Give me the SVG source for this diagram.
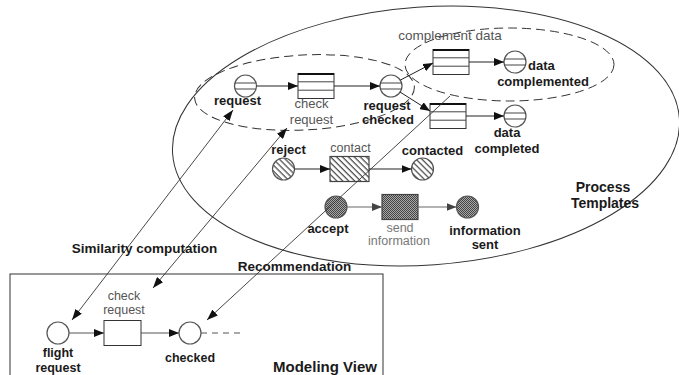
<svg xmlns="http://www.w3.org/2000/svg" xmlns:xlink="http://www.w3.org/1999/xlink" width="679" height="375" viewBox="0 0 679 375">
<style>
text { font-family: "Liberation Sans", Arial, sans-serif; text-anchor: middle; }
.b { font-weight: bold; fill: #1a1a1a; font-size: 13px; }
.bs { font-weight: bold; fill: #1a1a1a; font-size: 12.5px; }
.g { fill: #555; font-size: 13px; }
.gs { fill: #555; font-size: 12.5px; }
.big { font-weight: bold; fill: #1a1a1a; font-size: 14px; }
.lbl { font-weight: bold; fill: #1a1a1a; font-size: 13.5px; }
.frame { fill: none; stroke: #333; stroke-width: 1; }
.dash { fill: none; stroke: #333; stroke-width: 1; stroke-dasharray: 9 5; }
.arc { fill: none; stroke: #222; stroke-width: 1; marker-end: url(#ah); }
.arcg { fill: none; stroke: #666; stroke-width: 1; marker-end: url(#ahg); }
.link { fill: none; stroke: #333; stroke-width: 0.9; }
.pl { fill: #fff; stroke: #555; stroke-width: 1.2; }
.tr { fill: #fff; stroke: #333; stroke-width: 1; }
.row { stroke: #444; stroke-width: 1; }
</style>
<defs>
  <marker id="ah" viewBox="0 0 10 8" refX="10" refY="4" markerWidth="10" markerHeight="8" orient="auto" markerUnits="userSpaceOnUse">
    <path d="M0,0 L10,4 L0,8 z" fill="#111"/>
  </marker>
  <marker id="ahg" viewBox="0 0 10 8" refX="10" refY="4" markerWidth="10" markerHeight="8" orient="auto" markerUnits="userSpaceOnUse">
    <path d="M0,0 L10,4 L0,8 z" fill="#444"/>
  </marker>
  <marker id="lh" viewBox="0 0 11 8" refX="11" refY="4" markerWidth="11" markerHeight="8" orient="auto-start-reverse" markerUnits="userSpaceOnUse">
    <path d="M0,0 L11,4 L0,8 z" fill="#111"/>
  </marker>
  <pattern id="hatch" patternUnits="userSpaceOnUse" width="4.2" height="4.2" patternTransform="rotate(-45)">
    <rect width="4.2" height="4.2" fill="#fff"/>
    <line x1="1" y1="0" x2="1" y2="4.2" stroke="#333" stroke-width="1.1"/>
  </pattern>
  <pattern id="check" patternUnits="userSpaceOnUse" width="2" height="2">
    <rect width="2" height="2" fill="#a8a8a8"/>
    <rect width="1" height="1" fill="#444"/>
    <rect x="1" y="1" width="1" height="1" fill="#444"/>
  </pattern>
  <g id="bandc">
    <circle r="11" class="pl"/>
    <line x1="-10.6" y1="-3" x2="10.6" y2="-3" class="row"/>
    <line x1="-10.6" y1="3" x2="10.6" y2="3" class="row"/>
  </g>
  <g id="tbox">
    <rect x="-18" y="-12.5" width="36" height="25" class="tr"/>
    <line x1="-18" y1="-4.2" x2="18" y2="-4.2" class="row"/>
    <line x1="-18" y1="4.2" x2="18" y2="4.2" class="row"/>
    <line x1="-18" y1="-12" x2="18" y2="-12" stroke="#111" stroke-width="2"/>
  </g>
</defs>

<g id="process-templates">
  <ellipse cx="426" cy="136" rx="254" ry="129" transform="rotate(-4 426 136)" class="frame"/>
  <text class="big" x="603" y="192">Process</text>
  <text class="big" x="605" y="208">Templates</text>
</g>

<g id="group-request">
  <ellipse cx="304.5" cy="92.5" rx="110" ry="37.5" transform="rotate(-3 304.5 92.5)" class="dash"/>
</g>

<g id="group-complement">
  <ellipse cx="509.5" cy="64.5" rx="104.5" ry="36.5" class="dash"/>
  <text class="g" x="450" y="40" style="font-size:13.5px">complement data</text>
</g>

<g id="modeling-view">
  <rect x="10" y="274" width="373" height="110" class="frame"/>
  <text x="325" y="372" style="font-weight:bold;font-size:15px;fill:#1a1a1a">Modeling View</text>
</g>

<g id="p-request">
  <use xlink:href="#bandc" x="245.5" y="86"/>
  <text class="b" x="237.5" y="105">request</text>
</g>
<g id="t-check-request">
  <use xlink:href="#tbox" x="316" y="86"/>
  <text class="g" x="311.5" y="108">check</text>
  <text class="g" x="311.5" y="124">request</text>
</g>
<g id="p-request-checked">
  <use xlink:href="#bandc" x="391" y="86"/>
  <text class="b" x="387" y="110">request</text>
  <text class="b" x="388" y="124">checked</text>
</g>
<g id="t-complement-data">
  <use xlink:href="#tbox" x="451" y="62"/>
</g>
<g id="p-data-complemented">
  <use xlink:href="#bandc" x="515" y="62"/>
  <text class="b" x="528" y="70" style="text-anchor:start">data</text>
  <text class="b" x="543" y="86">complemented</text>
</g>
<g id="t-complete-data">
  <use xlink:href="#tbox" x="448" y="116"/>
</g>
<g id="p-data-completed">
  <use xlink:href="#bandc" x="515" y="116"/>
  <text class="b" x="507" y="137">data</text>
  <text class="b" x="507" y="153">completed</text>
</g>

<g id="p-reject">
  <circle cx="283.5" cy="169" r="11" fill="url(#hatch)" stroke="#555" stroke-width="1.2"/>
  <text class="b" x="288.5" y="154">reject</text>
</g>
<g id="t-contact">
  <rect x="330" y="156.5" width="39" height="25" fill="url(#hatch)" stroke="#444" stroke-width="1.2"/>
  <text class="gs" x="350.5" y="152">contact</text>
</g>
<g id="p-contacted">
  <circle cx="422.5" cy="169" r="11" fill="url(#hatch)" stroke="#555" stroke-width="1.2"/>
  <text class="b" x="432.5" y="155">contacted</text>
</g>

<g id="p-accept">
  <circle cx="336" cy="207" r="11" fill="url(#check)" stroke="#555" stroke-width="1.2"/>
  <text class="b" x="328" y="233">accept</text>
</g>
<g id="t-send-information">
  <rect x="382" y="194.5" width="36" height="25" fill="url(#check)" stroke="#444" stroke-width="1.2"/>
  <text class="gs" x="400" y="232" style="fill:#777">send</text>
  <text class="gs" x="399" y="245" style="fill:#777">information</text>
</g>
<g id="p-information-sent">
  <circle cx="467.5" cy="207" r="11" fill="url(#check)" stroke="#555" stroke-width="1.2"/>
  <text class="b" x="485" y="235">information</text>
  <text class="b" x="485" y="249">sent</text>
</g>

<g id="m-flight-request">
  <circle cx="58" cy="333" r="11" class="pl"/>
  <text class="bs" x="58" y="357">flight</text>
  <text class="bs" x="58" y="372">request</text>
</g>
<g id="m-check-request">
  <rect x="104" y="320.5" width="37" height="25" class="tr"/>
  <text class="gs" x="124" y="300">check</text>
  <text class="gs" x="124" y="314">request</text>
</g>
<g id="m-checked">
  <circle cx="190" cy="333" r="11" class="pl"/>
  <text class="bs" x="190" y="362">checked</text>
</g>

<g id="connectors">
  <line x1="256.5" y1="86" x2="298" y2="86" class="arc"/>
  <line x1="334" y1="86" x2="380" y2="86" class="arc"/>
  <line x1="400.5" y1="80" x2="433" y2="63" class="arc"/>
  <line x1="400" y1="92" x2="430" y2="111" class="arc"/>
  <line x1="469" y1="62" x2="504" y2="62" class="arc"/>
  <line x1="466" y1="116" x2="504" y2="116" class="arc"/>
  <line x1="294.5" y1="169" x2="330" y2="169" class="arc"/>
  <line x1="369" y1="169" x2="411.5" y2="169" class="arc"/>
  <line x1="347" y1="207" x2="382" y2="207" class="arcg"/>
  <line x1="418" y1="207" x2="456.5" y2="207" class="arcg"/>
  <line x1="69" y1="333" x2="104" y2="333" class="arc" style="stroke:#555"/>
  <line x1="141" y1="333" x2="179" y2="333" class="arc" style="stroke:#555"/>
  <line x1="201" y1="333" x2="243" y2="333" fill="none" stroke="#555" stroke-width="1" stroke-dasharray="6 5"/>
  <line x1="72" y1="320" x2="233" y2="110" class="link" marker-start="url(#lh)" marker-end="url(#lh)"/>
  <line x1="153" y1="288" x2="287" y2="128" class="link" marker-start="url(#lh)" marker-end="url(#lh)"/>
  <line x1="450" y1="96" x2="207" y2="320" class="link" marker-end="url(#lh)"/>
  <text class="lbl" x="144.5" y="253">Similarity computation</text>
  <text class="lbl" x="294.5" y="271">Recommendation</text>
</g>
</svg>
